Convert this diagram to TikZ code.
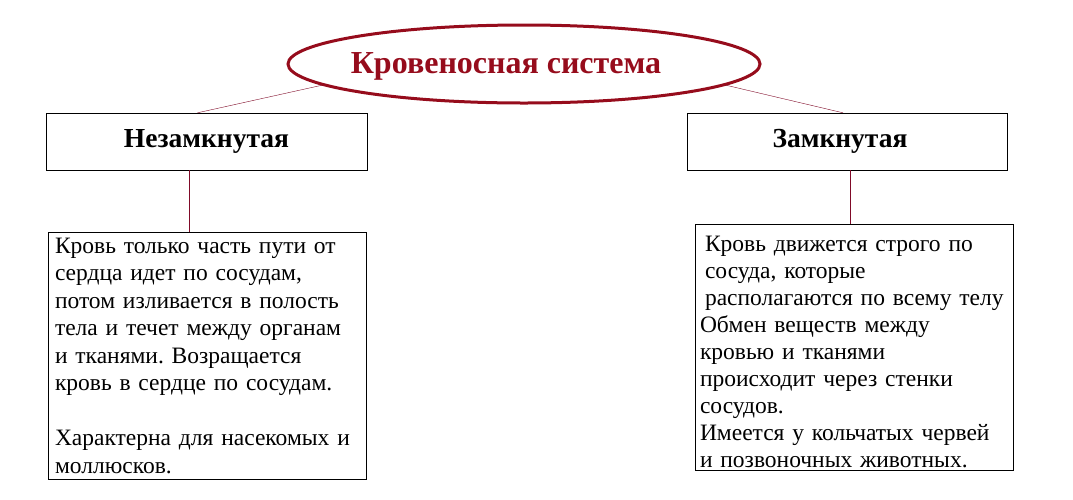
\documentclass[tikz,border=0pt]{standalone}
\usepackage{fontspec}
\setmainfont{Liberation Serif}
\usetikzlibrary{shapes.geometric}
\definecolor{bloodred}{RGB}{150,12,28}
\definecolor{linkred}{RGB}{128,10,40}
\frenchspacing
\begin{document}
\begin{tikzpicture}[x=1pt, y=-1pt]
\useasboundingbox (0,0) rectangle (1073,499);
\node[ellipse, draw=bloodred, line width=3pt, minimum width=472pt, minimum height=78pt] (sys) at (524,64){};
\node[text=bloodred, font=\bfseries\fontsize{32}{38}\selectfont] (systitle) at (506,66){Кровеносная система};
\node[draw, minimum width=321pt, minimum height=57pt, font=\bfseries\fontsize{27.5}{32}\selectfont] (open) at (206.5,141.5){Незамкнутая};
\node[draw, minimum width=320pt, minimum height=57pt, font=\bfseries\fontsize{27.5}{32}\selectfont] (closed) at (847,141.5){\hspace*{-14pt}Замкнутая};
\draw[linkred](sys.186) -- ([xshift=-9pt]open.north);
\draw[linkred](sys.-6) -- ([xshift=-4pt]closed.north);
\node[draw, text width=304pt, inner xsep=7pt, minimum height=247pt, align=left, font=\fontsize{23.5}{27.5}\selectfont] (opentext) at (207,355.5){Кровь только часть пути от\\ сердца идет по сосудам,\\ потом изливается в полость\\ тела и течет между органам\\ и тканями. Возращается\\ кровь в сердце по сосудам.\\ ~\\ Характерна для насекомых и\\ моллюсков.};
\draw[linkred]([xshift=-17pt]open.south) -- ([xshift=-17pt]open.south |- opentext.north);
\node[draw, text width=308pt, inner xsep=5pt, minimum height=246pt, align=left, font=\fontsize{23.5}{27}\selectfont] (closedtext) at (854,347){\hspace*{5pt}Кровь движется строго по\\ \hspace*{5pt}сосуда, которые\\ \hspace*{5pt}располагаются по всему телу\\ Обмен веществ между\\ кровью и тканями\\ происходит через стенки\\ сосудов.\\ Имеется у кольчатых червей\\ и позвоночных животных.\vspace{-9pt}};
\draw[linkred]([xshift=3pt]closed.south) -- ([xshift=3pt]closed.south |- closedtext.north);
\end{tikzpicture}
\end{document}
